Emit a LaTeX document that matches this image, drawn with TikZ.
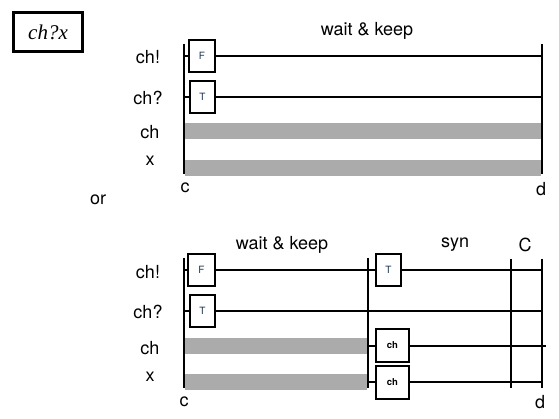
\documentclass[tikz,border=0pt]{standalone}
\usepackage{fontspec}
\setmainfont{TeX Gyre Heros}
\newfontfamily\titlefont{Liberation Serif}
\definecolor{bargray}{HTML}{ABABAB}
\definecolor{boxtext}{HTML}{1C3552}
\tikzset{
  lab/.style={font=\fontsize{18}{18}\selectfont, inner sep=0pt, outer sep=0pt},
  vline/.style={line width=2.3pt},
  hline/.style={line width=2pt},
  bar/.style={fill=bargray, draw=none},
  sbox/.style={draw, line width=2pt, fill=white, inner sep=0pt, outer sep=0pt,
    minimum width=26pt, minimum height=32pt, font=\fontsize{10}{10}\selectfont, text=boxtext},
  chbox/.style={draw, line width=2pt, fill=white, inner sep=0pt, outer sep=0pt,
    minimum width=33pt, minimum height=33pt, font=\fontsize{9.5}{9.5}\selectfont\bfseries},
}
\begin{document}
\begin{tikzpicture}[x=1pt,y=-1pt]
\useasboundingbox (0,0) rectangle (559,419);
% title box
\node[draw, line width=3pt, minimum width=69pt, minimum height=39pt, inner sep=0pt]
  (title) at (48,32) {\titlefont\itshape\fontsize{21}{21}\selectfont ch?x};
\node[lab] (or) at (98,200) {or};

% ---------- top diagram ----------
\coordinate (c1t) at (184,44); \coordinate (c1b) at (184,174);
\coordinate (d1t) at (542,44); \coordinate (d1b) at (542,174);
\draw[vline] (c1t) -- (c1b);
\draw[vline] (d1t) -- (d1b);
\node[lab] at (148,57) {ch!};
\node[lab] at (148,98) {ch?};
\node[lab] at (150,132) {ch};
\node[lab] at (150,161) {x};
\node[lab] (wk1) at (367,31) {wait \& keep};
\node[lab] (c1) at (185,188) {c};
\node[lab] (d1) at (541,189) {d};
\coordinate (a1) at (184,56); \coordinate (a2) at (542,56);
\coordinate (b1) at (184,97); \coordinate (b2) at (542,97);
\draw[hline] (a1) -- (a2);
\draw[hline] (b1) -- (b2);
\fill[bar] (185,123) rectangle (541,139);
\fill[bar] (185,160) rectangle (541,176);
\node[sbox] (F1) at (202,56) {F};
\node[sbox, minimum width=25pt] (T1) at (202.5,97) {T};

% ---------- bottom diagram ----------
\coordinate (c2t) at (184,258); \coordinate (c2b) at (184,388);
\coordinate (m2t) at (368,258); \coordinate (m2b) at (368,388);
\coordinate (C2t) at (511,259); \coordinate (C2b) at (511,388);
\coordinate (d2t) at (542,259); \coordinate (d2b) at (542,388);
\draw[vline] (c2t) -- (c2b);
\draw[vline] (m2t) -- (m2b);
\draw[vline] (C2t) -- (C2b);
\draw[vline] (d2t) -- (d2b);
\node[lab] at (148,272) {ch!};
\node[lab] at (148,312) {ch?};
\node[lab] at (150,348) {ch};
\node[lab] at (150,377) {x};
\node[lab] (wk2) at (282,245) {wait \& keep};
\node[lab] (syn) at (455,245) {syn};
\node[lab] (Cl) at (525,245) {C};
\node[lab] (c2) at (184,402) {c};
\node[lab] (d2) at (540,402) {d};
\coordinate (e1) at (184,270); \coordinate (e2) at (542,270);
\coordinate (f1) at (184,311); \coordinate (f2) at (542,311);
\coordinate (g1) at (366,346); \coordinate (g2) at (546,346);
\coordinate (h1) at (366,382); \coordinate (h2) at (542,382);
\draw[hline] (e1) -- (e2);
\draw[hline] (f1) -- (f2);
\draw[hline] (g1) -- (g2);
\draw[hline] (h1) -- (h2);
\fill[bar] (185,338) rectangle (367,354);
\fill[bar] (185,374) rectangle (367,390);
\node[sbox, minimum width=27pt] (F2) at (201.5,270) {F};
\node[sbox, minimum width=25pt] (T2) at (202.5,311) {T};
\node[sbox, minimum width=25pt] (T3) at (388.5,270) {T};
\node[chbox] (ch3) at (392.5,345.5) {ch};
\node[chbox] (ch4) at (392.5,382.5) {ch};
\end{tikzpicture}
\end{document}
